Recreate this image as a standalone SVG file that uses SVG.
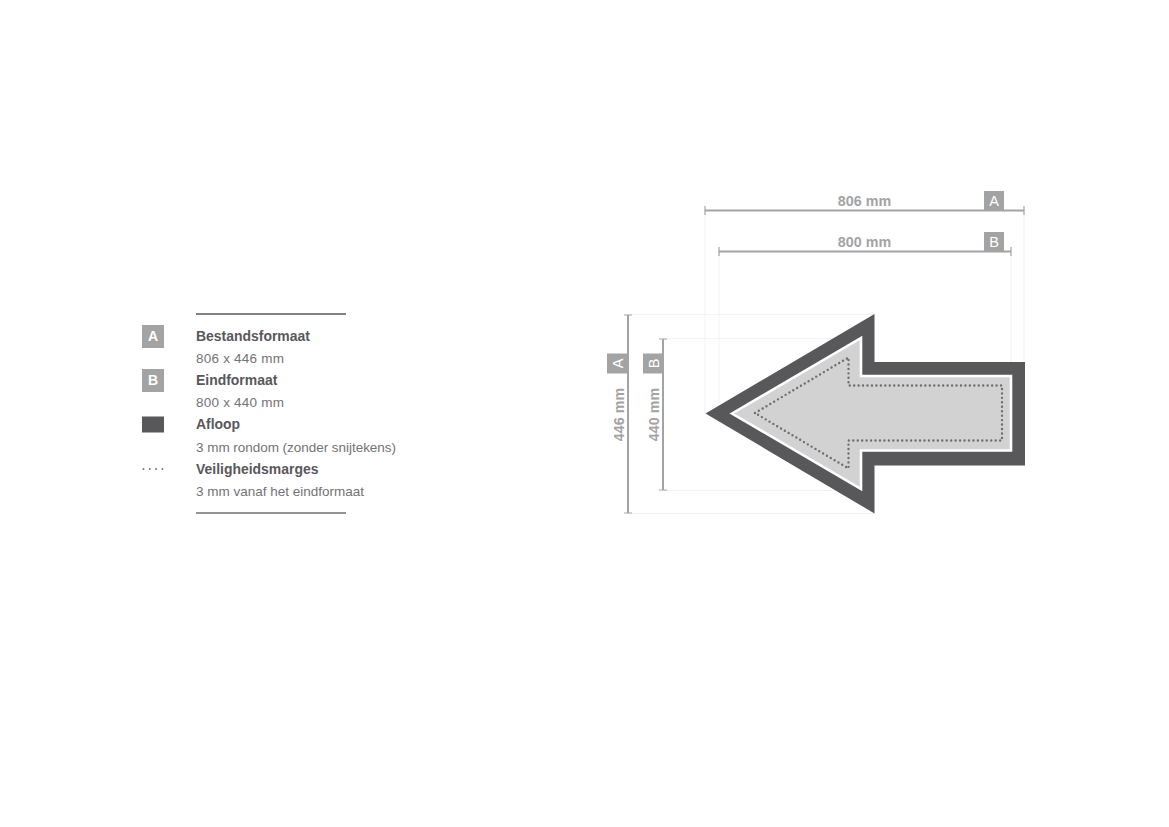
<svg xmlns="http://www.w3.org/2000/svg" width="1169" height="827" viewBox="0 0 1169 827">
<style>
text{font-family:"Liberation Sans",Arial,sans-serif}
.b{font-size:13.95px;font-weight:700;fill:#58585a}
.r{font-size:13.5px;fill:#737375}
.d{font-size:14.3px;font-weight:700;fill:#a3a3a3;text-anchor:middle}
.l{font-size:14px;font-weight:700;fill:#fff;text-anchor:middle}
.s{font-size:14.5px;fill:#fff;text-anchor:middle}
.badge{fill:#a3a3a3}
.dim{stroke:#a3a3a3;stroke-width:2;fill:none}
.tick{stroke:#a3a3a3;stroke-width:1.200;fill:none}
.faint{stroke:#ececec;stroke-width:.7;fill:none}
.rule{stroke:#58585a;stroke-width:1.400}
</style>
<rect width="1169" height="827" fill="#fff"/>
<g id="legend">
<line class="rule" x1="196" y1="314" x2="346" y2="314"/>
<line class="rule" x1="196" y1="513" x2="346" y2="513" style="stroke:#707070"/>
<rect class="badge" x="142" y="325" width="22" height="23"/>
<text class="l" x="153" y="340.500">A</text>
<rect class="badge" x="142" y="369" width="22" height="23"/>
<text class="l" x="153" y="385">B</text>
<rect x="142" y="416.500" width="22" height="16" fill="#58585a"/>
<line x1="143.500" y1="469" x2="164" y2="469" stroke="#77777a" stroke-width="2" stroke-linecap="round" stroke-dasharray="0 6.300"/>
<text class="b" x="196" y="340.500">Bestandsformaat</text>
<text class="r" x="196" y="362.500" textLength="88" lengthAdjust="spacing">806 x 446 mm</text>
<text class="b" x="196" y="384.500">Eindformaat</text>
<text class="r" x="196" y="406.500" textLength="88" lengthAdjust="spacing">800 x 440 mm</text>
<text class="b" x="196" y="429">Afloop</text>
<text class="r" x="196" y="451.500" textLength="200" lengthAdjust="spacing">3 mm rondom (zonder snijtekens)</text>
<text class="b" x="196" y="473.500">Veiligheidsmarges</text>
<text class="r" x="196" y="495.500" textLength="168" lengthAdjust="spacing">3 mm vanaf het eindformaat</text>
</g>
<g id="connectors">
<path class="faint" d="M705 210V413M719 251V404M1024 210V362M1011 251V362M628 314.500H874M663 338.500H860M663 490.500H860M628 513.500H874"/>
<path class="dim" d="M705 210.500H1024M719 251.500H1011M628 315V513M663 339V490"/>
<path class="tick" d="M705 206V215M1024 206V215M719 247V256M1011 247V256M624 315H632M624 513H632M659 339H667M659 490H667"/>
</g>
<g id="arrow">
<path d="M705.500 413.500L874.500 314V362H1025V465.500H874.500V513.500Z" fill="#58585a"/>
<path d="M732 413.500L861 338V376H1011V450.500H861V489Z" fill="#d2d2d2" stroke="#fff" stroke-width="2.600"/>
<path d="M755 413L848.500 357.500V385.500H1002V440.500H848.500V468.500Z" fill="none" stroke="#6e6e71" stroke-width="2.400" stroke-linecap="round" stroke-dasharray="0 4.450"/>
</g>
<g id="dim-a-top">
<rect class="badge" x="984" y="191" width="20" height="20"/>
<text class="s" x="994" y="206">A</text>
<text class="d" x="864.500" y="206">806 mm</text>
</g>
<g id="dim-b-top">
<rect class="badge" x="984" y="232" width="20" height="20"/>
<text class="s" x="994" y="247">B</text>
<text class="d" x="864.500" y="247">800 mm</text>
</g>
<g id="dim-a-left">
<rect class="badge" x="607" y="353.500" width="20" height="20"/>
<text class="s" transform="translate(622.500 363.500) rotate(-90)">A</text>
<text class="d" transform="translate(624 414.500) rotate(-90)">446 mm</text>
</g>
<g id="dim-b-left">
<rect class="badge" x="643" y="353.500" width="20" height="20"/>
<text class="s" transform="translate(658.500 363.500) rotate(-90)">B</text>
<text class="d" transform="translate(659 414.500) rotate(-90)">440 mm</text>
</g>
</svg>
